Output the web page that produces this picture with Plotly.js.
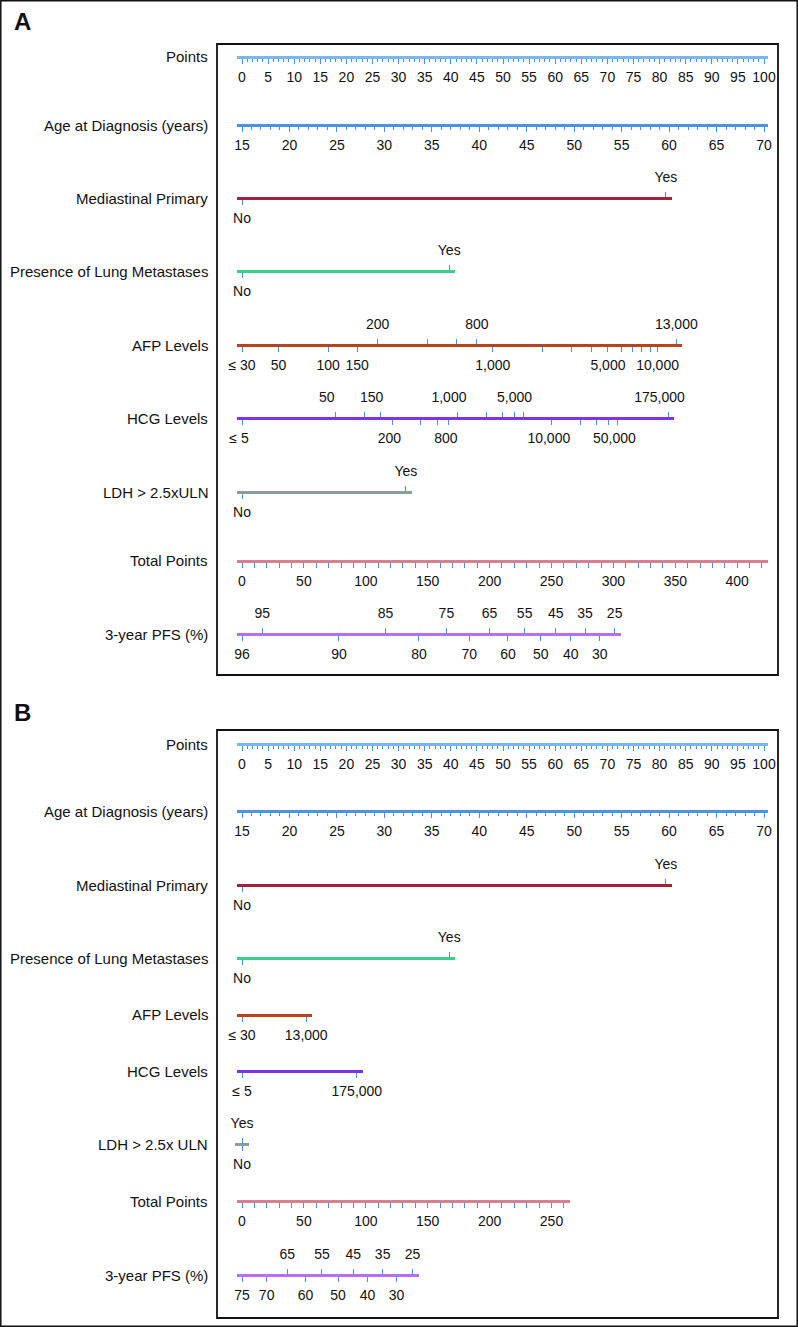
<!DOCTYPE html>
<html>
<head>
<meta charset="utf-8">
<script src="https://cdn.plot.ly/plotly-3.0.1.min.js"></script>
<style>
  html, body { margin: 0; padding: 0; background: #fff; }
  #chart { width: 798px; height: 1327px; }
</style>
</head>
<body>
<div id="chart"></div>
<script>
// ---- values ----
var pointsRange = [0, 100]
var ageRange = [15, 70]            // 70 years sits at 100 points
var binaryLevels = ['No', 'Yes']

// Panel A
var mediastinalPointsA = [0, 81.2]
var lungPointsA = [0, 39.7]
var ldhPointsA = [0, 31.4]
var afpLowA = [30, 50, 100, 150, 1000, 2000, 3000, 4000, 5000, 6000, 7000, 8000, 9000, 10000]
var afpLowTextA = ['\u2264 30', '50', '100', '150', '1,000', '', '', '', '5,000', '', '', '', '', '10,000']
var afpHighA = [200, 400, 600, 800, 13000]
var afpHighTextA = ['200', '', '', '800', '13,000']
var afpTopPointsA = 83.2           // points given to 13,000
var hcgLowA = [5, 200, 400, 600, 800, 10000, 20000, 30000, 40000, 50000]
var hcgLowTextA = ['\u2264 5', '200', '', '', '800', '10,000', '', '', '', '50,000']
var hcgHighA = [50, 100, 150, 1000, 2000, 3000, 4000, 5000, 175000]
var hcgHighTextA = ['50', '', '150', '1,000', '', '', '', '5,000', '175,000']
var hcgTopPointsA = 81.7           // points given to 175,000
var totalRangeA = [0, 420]
var pfsLowTextA = ['96', '90', '80', '70', '60', '50', '40', '30']
var pfsLowTotalA = [0, 78.3, 142.9, 183.6, 214.8, 241.3, 265.5, 288.9]
var pfsHighTextA = ['95', '85', '75', '65', '55', '45', '35', '25']
var pfsHighTotalA = [16.3, 115.9, 165.1, 200.0, 228.3, 253.4, 277.1, 301.0]

// Panel B
var mediastinalPointsB = [0, 81.2]
var lungPointsB = [0, 39.7]
var ldhPointsB = [0, 0]
var afpLowB = [30, 13000]
var afpLowTextB = ['\u2264 30', '13,000']
var afpTopPointsB = 12.3
var hcgLowB = [5, 175000]
var hcgLowTextB = ['\u2264 5', '175,000']
var hcgTopPointsB = 22.0
var totalRangeB = [0, 260]
var pfsLowTextB = ['75', '70', '60', '50', '40', '30']
var pfsLowTotalB = [0, 19.9, 51.3, 77.6, 101.4, 124.8]
var pfsHighTextB = ['65', '55', '45', '35', '25']
var pfsHighTotalB = [36.6, 64.6, 89.9, 113.6, 137.8]

// ---- page geometry ----
var W = 798, H = 1327
var X0 = 242              // pixel where 0 points / 0 total points sit
var PX_PER_POINT = 5.22
var PX_PER_TOTAL = 1.238
var FONT = 'Liberation Sans, Arial, Helvetica, sans-serif'
var TICK = '#4a90e2'

function linearScale(u0, pxPerUnit) {
  return {
    type: 'linear',
    toPx: function (u) { return X0 + (u - u0) * pxPerUnit },
    fromPx: function (px) { return u0 + (px - X0) / pxPerUnit }
  }
}
// log axis: v0 sits at 0 points, v1 at p1 points
function logScale(v0, v1, p1) {
  var perDecade = p1 * PX_PER_POINT / (Math.log10(v1) - Math.log10(v0))
  return {
    type: 'log',
    toPx: function (v) { return X0 + (Math.log10(v) - Math.log10(v0)) * perDecade },
    fromPx: function (px) { return Math.log10(v0) + (px - X0) / perDecade }
  }
}

var pointScale = linearScale(0, PX_PER_POINT)
var ageScale = linearScale(ageRange[0], (pointsRange[1] * PX_PER_POINT) / (ageRange[1] - ageRange[0]))
var totalScale = linearScale(0, PX_PER_TOTAL)

var layout = {
  width: W, height: H,
  margin: { l: 0, r: 0, t: 0, b: 0 },
  paper_bgcolor: '#ffffff',
  plot_bgcolor: 'rgba(0,0,0,0)',
  showlegend: false,
  font: { family: FONT, size: 14, color: '#111' },
  yaxis: { visible: false, range: [0, 1], domain: [0, 1], fixedrange: true },
  annotations: [],
  shapes: [
    { type: 'rect', xref: 'paper', yref: 'paper', x0: 0.8 / W, x1: 1 - 0.8 / W, y0: 0.8 / H, y1: 1 - 0.8 / H, line: { color: '#111', width: 1.5 } },
    { type: 'rect', xref: 'paper', yref: 'paper', x0: 217 / W, x1: 778 / W, y0: 1 - 675 / H, y1: 1 - 44 / H, line: { color: '#111', width: 1.8 } },
    { type: 'rect', xref: 'paper', yref: 'paper', x0: 217 / W, x1: 778 / W, y0: 1 - 1318 / H, y1: 1 - 730 / H, line: { color: '#111', width: 1.8 } }
  ]
}
var traces = []
var axisCount = 0

function addAxis(row, side, tickProps) {
  axisCount++
  var id = axisCount === 1 ? '' : String(axisCount)
  var px0 = row.scale.toPx(row.lo) - (row.padStart || 5)
  var px1 = row.scale.toPx(row.hi) + (row.padEnd || 6)
  layout['xaxis' + id] = Object.assign({
    type: row.scale.type,
    domain: [px0 / W, px1 / W],
    range: [row.scale.fromPx(px0), row.scale.fromPx(px1)],
    anchor: 'free', position: 1 - row.y / H, side: side,
    showline: true, linecolor: row.color, linewidth: 3,
    ticks: 'outside', ticklen: 5, tickwidth: 1, tickcolor: TICK,
    showgrid: false, zeroline: false, fixedrange: true,
    tickfont: { family: FONT, size: 14, color: '#111' },
    ticklabelstandoff: side === 'top' ? 4 : 1
  }, tickProps)
  traces.push({ type: 'scatter', x: [], y: [], xaxis: 'x' + id, yaxis: 'y', hoverinfo: 'skip', showlegend: false })
}

function addRow(row) {
  if (row.bottom) addAxis(row, 'bottom', row.bottom)
  if (row.top) addAxis(row, 'top', row.top)
  layout.annotations.push({
    text: row.label, xref: 'paper', yref: 'paper', x: 210 / W, y: 1 - row.y / H,
    xanchor: 'right', yanchor: 'middle', showarrow: false,
    font: { family: FONT, size: 15, color: '#111' }
  })
}

function arr(vals, text) { return { tickmode: 'array', tickvals: vals, ticktext: text } }
var minorPts = { ticks: 'outside', dtick: 1, tick0: 0, ticklen: 3, tickwidth: 1, tickcolor: TICK }
var minorTotal = { ticks: 'outside', dtick: 10, tick0: 0, ticklen: 5, tickwidth: 1, tickcolor: TICK }

function panel(y, d) {
  addRow({ label: 'Points', y: y[0], color: '#7ab7ef', scale: pointScale, lo: pointsRange[0], hi: pointsRange[1], padEnd: 4,
    bottom: { tickmode: 'linear', tick0: 0, dtick: 5, ticklen: 5, minor: minorPts } })
  addRow({ label: 'Age at Diagnosis (years)', y: y[1], color: '#4b92e0', scale: ageScale, lo: ageRange[0], hi: ageRange[1], padEnd: 4,
    bottom: { tickmode: 'linear', tick0: 15, dtick: 5, ticklen: 5, minor: Object.assign({}, minorPts, { tick0: 15 }) } })
  addRow({ label: 'Mediastinal Primary', y: y[2], color: '#a3213d', scale: pointScale, lo: d.med[0], hi: d.med[1],
    bottom: arr([d.med[0]], [binaryLevels[0]]), top: arr([d.med[1]], [binaryLevels[1]]) })
  addRow({ label: 'Presence of Lung Metastases', y: y[3], color: '#3ccc8c', scale: pointScale, lo: d.lung[0], hi: d.lung[1],
    bottom: arr([d.lung[0]], [binaryLevels[0]]), top: arr([d.lung[1]], [binaryLevels[1]]) })
  var afp = logScale(d.afpLow[0], d.afpTopVal, d.afpTop)
  addRow({ label: 'AFP Levels', y: y[4], color: '#b8441d', scale: afp, lo: d.afpLow[0], hi: d.afpTopVal,
    bottom: arr(d.afpLow, d.afpLowText), top: d.afpHigh ? arr(d.afpHigh, d.afpHighText) : null })
  var hcg = logScale(d.hcgLow[0], d.hcgTopVal, d.hcgTop)
  addRow({ label: 'HCG Levels', y: y[5], color: '#7c35e6', scale: hcg, lo: d.hcgLow[0], hi: d.hcgTopVal,
    bottom: Object.assign(arr(d.hcgLow, d.hcgLowText), { ticklabelshift: d.hcgHigh ? -3 : 0 }),
    top: d.hcgHigh ? Object.assign(arr(d.hcgHigh, d.hcgHighText), { ticklabelshift: -9 }) : null })
  addRow({ label: d.ldhLabel, y: y[6], color: '#8c9c9c', scale: pointScale, lo: d.ldh[0], hi: d.ldh[1],
    padStart: d.ldh[1] === 0 ? 7 : 5, padEnd: d.ldh[1] === 0 ? 7 : 6,
    bottom: arr([d.ldh[0]], [binaryLevels[0]]), top: arr([d.ldh[1]], [binaryLevels[1]]) })
  addRow({ label: 'Total Points', y: y[7], color: '#d97d90', scale: totalScale, lo: d.total[0], hi: d.total[1],
    bottom: { tickmode: 'linear', tick0: 0, dtick: 50, ticklen: 5, minor: minorTotal } })
  addRow({ label: '3-year PFS (%)', y: y[8], color: '#b56ff2', scale: totalScale, lo: d.pfsLowTotal[0],
    hi: d.pfsHighTotal[d.pfsHighTotal.length - 1],
    bottom: arr(d.pfsLowTotal, d.pfsLowText), top: arr(d.pfsHighTotal, d.pfsHighText) })
}

panel([57, 125, 198, 271, 345, 418, 492, 561, 634], {
  med: mediastinalPointsA, lung: lungPointsA, ldh: ldhPointsA, ldhLabel: 'LDH &gt; 2.5xULN',
  afpLow: afpLowA, afpLowText: afpLowTextA, afpHigh: afpHighA, afpHighText: afpHighTextA,
  afpTopVal: afpHighA[afpHighA.length - 1], afpTop: afpTopPointsA,
  hcgLow: hcgLowA, hcgLowText: hcgLowTextA, hcgHigh: hcgHighA, hcgHighText: hcgHighTextA,
  hcgTopVal: hcgHighA[hcgHighA.length - 1], hcgTop: hcgTopPointsA,
  total: totalRangeA,
  pfsLowTotal: pfsLowTotalA, pfsLowText: pfsLowTextA, pfsHighTotal: pfsHighTotalA, pfsHighText: pfsHighTextA
})

panel([744, 811, 885, 958, 1015, 1071, 1144, 1201, 1275], {
  med: mediastinalPointsB, lung: lungPointsB, ldh: ldhPointsB, ldhLabel: 'LDH &gt; 2.5x ULN',
  afpLow: afpLowB, afpLowText: afpLowTextB, afpHigh: null,
  afpTopVal: afpLowB[afpLowB.length - 1], afpTop: afpTopPointsB,
  hcgLow: hcgLowB, hcgLowText: hcgLowTextB, hcgHigh: null,
  hcgTopVal: hcgLowB[hcgLowB.length - 1], hcgTop: hcgTopPointsB,
  total: totalRangeB,
  pfsLowTotal: pfsLowTotalB, pfsLowText: pfsLowTextB, pfsHighTotal: pfsHighTotalB, pfsHighText: pfsHighTextB
})

// panel letters
;[['A', 22], ['B', 712]].forEach(function (p) {
  layout.annotations.push({
    text: '<b>' + p[0] + '</b>', xref: 'paper', yref: 'paper', x: 12 / W, y: 1 - p[1] / H,
    xanchor: 'left', yanchor: 'middle', showarrow: false,
    font: { family: FONT, size: 24, color: '#111' }
  })
})

Plotly.newPlot('chart', traces, layout, { staticPlot: true, displayModeBar: false })
</script>
</body>
</html>
